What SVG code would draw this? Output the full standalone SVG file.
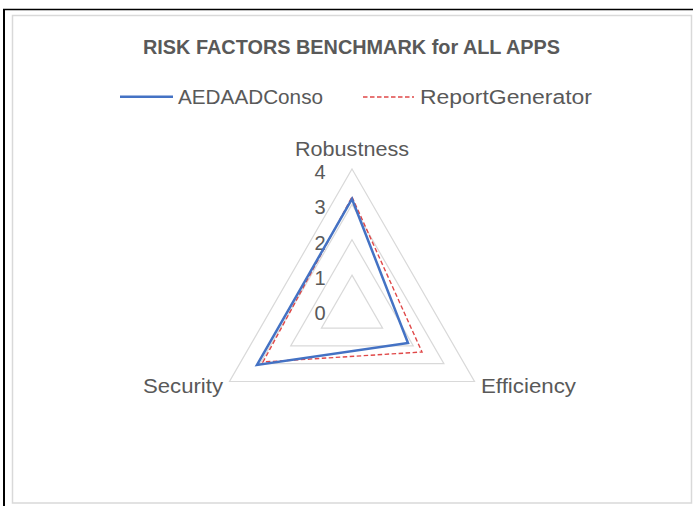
<svg xmlns="http://www.w3.org/2000/svg" width="693" height="506" viewBox="0 0 693 506">
<style>
.t{font-family:"Liberation Sans",Arial,sans-serif;fill:#595959}
.lbl{font-size:20px}
.tick{font-size:20px;text-anchor:middle}
.grid{fill:none;stroke:#d9d9d9;stroke-width:1.2}
.s1{fill:none;stroke:#4472c4;stroke-width:2.5;stroke-linejoin:miter}
.s2{fill:none;stroke:#e04848;stroke-width:1.4;stroke-dasharray:4.5 2.5}
</style>
<rect x="0" y="0" width="693" height="506" fill="#ffffff"/>
<g id="frame">
<line x1="3" y1="9.5" x2="693" y2="9.5" stroke="#000" stroke-width="1.6"/>
<line x1="4" y1="9" x2="4" y2="506" stroke="#000" stroke-width="2"/>
<rect x="12.5" y="15.5" width="679" height="487.5" fill="#fff" stroke="#d9d9d9" stroke-width="1.5"/>
</g>
<g id="title">
<text class="t" x="143" y="54" font-size="20.5" font-weight="bold" textLength="417" lengthAdjust="spacingAndGlyphs">RISK FACTORS BENCHMARK for ALL APPS</text>
</g>
<g id="legend">
<line x1="120" y1="96.7" x2="173" y2="96.7" stroke="#4472c4" stroke-width="2.5"/>
<text class="t lbl" x="178" y="103.5" textLength="145" lengthAdjust="spacingAndGlyphs">AEDAADConso</text>
<line x1="363" y1="97" x2="414" y2="97" stroke="#e04848" stroke-width="1.4" stroke-dasharray="4.5 2.5"/>
<text class="t lbl" x="420" y="103.5" textLength="172" lengthAdjust="spacingAndGlyphs">ReportGenerator</text>
</g>
<g id="grid">
<polygon class="grid" points="352,169 474.5,381.5 229.5,381.5"/>
<polygon class="grid" points="352,204.4 443.9,363.6 260.1,363.6"/>
<polygon class="grid" points="352,239.8 413.3,345.9 290.7,345.9"/>
<polygon class="grid" points="352,275.1 382.6,328.2 321.4,328.2"/>
</g>
<g id="ticks">
<text class="t tick" x="320" y="179">4</text>
<text class="t tick" x="320" y="214">3</text>
<text class="t tick" x="320" y="250">2</text>
<text class="t tick" x="320" y="285">1</text>
<text class="t tick" x="320" y="320">0</text>
</g>
<g id="axis-labels">
<text class="t lbl" x="295" y="155.5" textLength="114" lengthAdjust="spacingAndGlyphs">Robustness</text>
<text class="t lbl" x="143" y="392.5" textLength="80" lengthAdjust="spacingAndGlyphs">Security</text>
<text class="t lbl" x="481" y="392.5" textLength="95" lengthAdjust="spacingAndGlyphs">Efficiency</text>
</g>
<g id="connectors">
<polygon id="ReportGenerator" class="s2" points="352,197 422,352 263,362"/>
<polygon id="AEDAADConso" class="s1" points="352,199 408,343 257,365"/>
</g>
</svg>
